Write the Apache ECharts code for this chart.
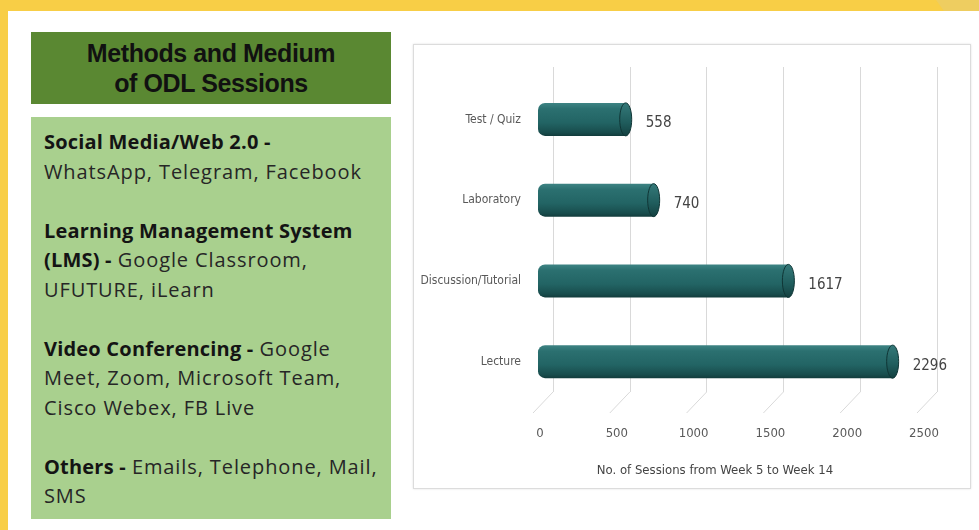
<!DOCTYPE html>
<html>
<head>
<meta charset="utf-8">
<script src="https://cdn.jsdelivr.net/npm/echarts@6/dist/echarts.min.js"></script>
<style>
  html, body { margin: 0; padding: 0; width: 979px; height: 530px; overflow: hidden; background: #F8CE46; }
  #panel { position: absolute; left: 8px; top: 11px; right: 0; bottom: 0; background: #ffffff; }
  #patch { position: absolute; left: 940px; top: 0; width: 60px; height: 11px; background: #EECD60; transform: skewX(35deg); }
  #title { position: absolute; left: 31px; top: 32px; width: 360px; height: 72px; background: #5A8832;
           font-family: "Liberation Sans", Arial, sans-serif; font-weight: bold; font-size: 25px; line-height: 30px;
           color: #111; text-align: center; display: flex; flex-direction: column; justify-content: center; letter-spacing: -0.4px; }
  #info { position: absolute; left: 31px; top: 117px; width: 360px; height: 402px; background: #A9D08E;
          box-sizing: border-box; padding: 10px 0 0 13px; font-family: "Open Sans", Lato, sans-serif;
          font-size: 20px; line-height: 29.5px; color: #262626; letter-spacing: 0.9px; white-space: nowrap; }
  #info p { margin: 0 0 29.5px 0; }
  #info b { color: #141414; letter-spacing: 0.2px; }
  #box { position: absolute; left: 413px; top: 44px; width: 556px; height: 443px; border: 1px solid #dcdcdc;
         box-shadow: 0 0 2px rgba(0,0,0,0.12); background: #fff; }
  #chart { position: absolute; left: 0; top: 0; width: 556px; height: 443px; }
</style>
</head>
<body>
<div id="panel"></div>
<div id="patch"></div>
<div id="title"><div>Methods and Medium</div><div>of ODL Sessions</div></div>
<div id="info">
  <p><b>Social Media/Web 2.0 -</b><br>WhatsApp, Telegram, Facebook</p>
  <p><b>Learning Management System</b><br><b>(LMS) -</b> Google Classroom,<br>UFUTURE, iLearn</p>
  <p><b>Video Conferencing -</b> Google<br>Meet, Zoom, Microsoft Team,<br>Cisco Webex, FB Live</p>
  <p><b>Others -</b> Emails, Telephone, Mail,<br>SMS</p>
</div>
<div id="box"><div id="chart"></div></div>
<script>
// ---- data ----
var categories = ['Lecture', 'Discussion/Tutorial', 'Laboratory', 'Test / Quiz'];
var sessions = [2296, 1617, 740, 558];
var xTicks = [0, 500, 1000, 1500, 2000, 2500];
var axisTitle = 'No. of Sessions from Week 5 to Week 14';

var NARROW = '"Liberation Sans Narrow", "DejaVu Sans Condensed", "Liberation Sans", sans-serif';
var chart = echarts.init(document.getElementById('chart'));

var barData = sessions.map(function (v, i) { return [v, i]; });
var wallData = xTicks.map(function (t) { return [t, 0]; });

function renderBar(params, api) {
  var v = api.value(0);
  var c = api.value(1);
  var start = api.coord([0, c]);
  var end = api.coord([v, c]);
  var h = 33;
  var y0 = end[1] - h / 2;
  var capRx = 6;
  var grad = new echarts.graphic.LinearGradient(0, 0, 0, 1, [
    { offset: 0, color: '#3E8484' },
    { offset: 0.18, color: '#2B7070' },
    { offset: 0.6, color: '#226464' },
    { offset: 0.9, color: '#184C4C' },
    { offset: 1, color: '#123C3C' }
  ]);
  var capGrad = new echarts.graphic.LinearGradient(0, 0, 0, 1, [
    { offset: 0, color: '#357A7A' },
    { offset: 0.6, color: '#1F5C5C' },
    { offset: 1, color: '#133F3F' }
  ]);
  return {
    type: 'group',
    children: [
      { type: 'rect', shape: { x: start[0] - 2, y: y0, width: end[0] - start[0] + 2, height: h, r: [7, 0, 0, 7] },
        style: { fill: grad } },
      { type: 'ellipse', shape: { cx: end[0], cy: end[1], rx: capRx, ry: h / 2 },
        style: { fill: capGrad, stroke: '#0F3535', lineWidth: 1 } },
      { type: 'text', x: end[0] + 20, y: end[1] + 4,
        style: { text: String(v), fill: '#444', font: '15px ' + NARROW, verticalAlign: 'middle', align: 'left' } }
    ]
  };
}

function renderFloor(params, api) {
  var p = api.coord([api.value(0), 0]);
  return {
    type: 'line',
    shape: { x1: p[0], y1: p[1], x2: p[0] - 20, y2: p[1] + 21 },
    style: { stroke: '#d9d9d9', lineWidth: 1 }
  };
}

chart.setOption({
  animation: false,
  grid: [
    { left: 126, top: 34, width: 384, height: 323 },
    { left: 139, top: 22, width: 384, height: 325 }
  ],
  xAxis: [
    { type: 'value', gridIndex: 0, min: xTicks[0], max: xTicks[xTicks.length - 1], interval: 500,
      axisLine: { show: false }, axisTick: { show: false }, splitLine: { show: false },
      axisLabel: { margin: 25, color: '#595959', fontFamily: NARROW, fontSize: 13,
                   formatter: function (v) { return String(v); } },
      name: axisTitle, nameLocation: 'middle', nameGap: 62,
      nameTextStyle: { color: '#444', fontFamily: NARROW, fontSize: 13, padding: [0, 34, 0, 0] } },
    { type: 'value', gridIndex: 1, min: xTicks[0], max: xTicks[xTicks.length - 1], interval: 500,
      axisLine: { show: false }, axisTick: { show: false }, axisLabel: { show: false },
      splitLine: { show: true, lineStyle: { color: '#d9d9d9', width: 1 } } }
  ],
  yAxis: [
    { type: 'category', gridIndex: 0, data: categories,
      axisLine: { show: false }, axisTick: { show: false },
      axisLabel: { margin: 19, color: '#595959', fontFamily: NARROW, fontSize: 12, padding: [20, 0, 0, 0] } },
    { type: 'value', gridIndex: 1, min: 0, max: 1, show: false }
  ],
  series: [
    { type: 'custom', xAxisIndex: 1, yAxisIndex: 1, renderItem: renderFloor, data: wallData, silent: true, z: 1 },
    { type: 'custom', xAxisIndex: 0, yAxisIndex: 0, renderItem: renderBar, data: barData,
      encode: { x: 0, y: 1 }, z: 5 }
  ]
});
</script>
</body>
</html>
